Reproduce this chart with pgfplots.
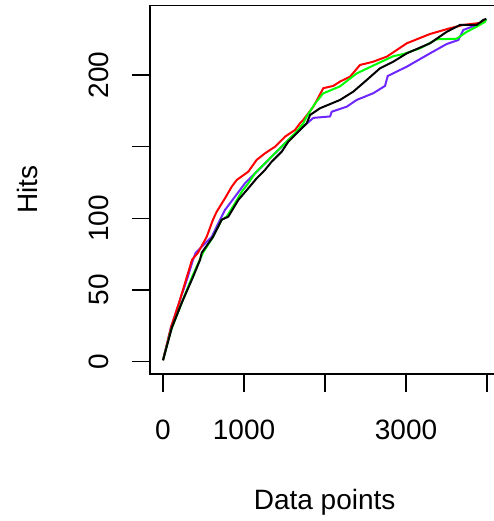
\documentclass[border=0pt]{standalone}
\usepackage{fontspec}
\setmainfont{Liberation Sans}
\usepackage{pgfplots}
\pgfplotsset{compat=1.18}
\definecolor{rred}{RGB}{255,0,0}
\definecolor{rgreen}{RGB}{0,255,0}
\definecolor{rpurple}{RGB}{110,40,255}
\begin{document}
\fontsize{14}{17}\selectfont
\begin{tikzpicture}
\begin{axis}[
  x=0.0405pt, y=0.717pt,
  xmin=-158.6, xmax=4150, ymin=-8.5, ymax=248.2,
  axis line style={line width=0.75pt},
  every tick/.style={black, line width=0.75pt},
  tick align=outside, major tick length=9pt,
  xtick={0,1000,2000,3000,4000},
  xticklabels={0,1000,,3000,},
  ytick={0,50,100,150,200},
  yticklabels={0,50,100,,200},
  xtick pos=bottom, ytick pos=left,
  /pgf/number format/assume math mode=true,
  xticklabel style={anchor=base, yshift=-24pt},
  yticklabel style={xshift=-12pt, rotate=90, anchor=base},
  xlabel={Data points}, ylabel={Hits},
  every axis x label/.style={at={(axis description cs:0.5,0)}, anchor=base, yshift=-68pt},
  every axis y label/.style={at={(axis description cs:0,0.5)}, xshift=-56.5pt, rotate=90, anchor=base},
  clip=false,
]
\addplot[rpurple, line width=1pt] coordinates {
(0,1) (99,24) (198,41) (305,59) (370,71) (404,76) (601,87) (704,99) (765,105.8) (889,115.1) (1012,124.4) (1095,129) (1219,136) (1342,143) (1465,149.9) (1589,156.9) (1753,165) (1856,170) (2062,171) (2083,174.3) (2268,177.8) (2391,182.5) (2596,187.2) (2741,192.3) (2774,199.2) (3009,205.7) (3296,215) (3502,221.5) (3646,224.3) (3707,231.3) (3873,234.8) (3975,237.6) (3990,239)
};
\addplot[rred, line width=1pt] coordinates {
(0,1) (99,24) (198,41) (358,71) (432,76) (539,87) (617,99) (663,104.6) (765,113.9) (848,122) (910,126.7) (1053,132.5) (1156,140.7) (1259,145.3) (1383,149.9) (1506,156.9) (1630,161.6) (1691,166.2) (1732,168.6) (1856,177.8) (1979,190.7) (2102,192.3) (2185,195.3) (2309,198.7) (2432,206.9) (2596,209.2) (2762,212.7) (3009,222) (3296,228.5) (3543,232.5) (3707,234.8) (3914,236.2) (3975,238.3) (3990,239)
};
\addplot[rgreen, line width=1pt] coordinates {
(0,1) (99,22) (231,41) (358,59) (494,76) (617,87) (725,99) (786,101.1) (889,110.5) (972,118.5) (1053,124.4) (1136,131.4) (1259,138.4) (1383,145.3) (1506,152.3) (1630,159.3) (1732,166.2) (1774,171) (1877,180) (1975,187) (2185,192) (2391,201) (2596,206.5) (2843,213) (2967,214.5) (3173,218.5) (3379,224.8) (3626,225.2) (3749,230) (3873,233.6) (3975,237) (3990,239)
};
\addplot[black, line width=1pt] coordinates {
(0,1) (111,24) (231,41) (370,59) (457,71) (478,76) (617,87) (725,99) (806,101.1) (930,112.8) (1053,120.9) (1157,127.9) (1259,133.7) (1342,139.5) (1465,146.4) (1547,153.4) (1670,160.4) (1774,166.2) (1815,172) (1938,176.7) (2185,182.5) (2349,188.3) (2515,196.4) (2679,204.6) (2843,209.2) (3009,215) (3296,222) (3502,230) (3667,234.8) (3873,234.8) (3954,238.3) (3990,239)
};
\coordinate (bbA) at (axis cs:-2012.3,-111.1);
\coordinate (bbB) at (axis cs:4074.1,252.2);
\end{axis}
\pgfresetboundingbox
\useasboundingbox (bbA) rectangle (bbB);
\end{tikzpicture}
\end{document}
